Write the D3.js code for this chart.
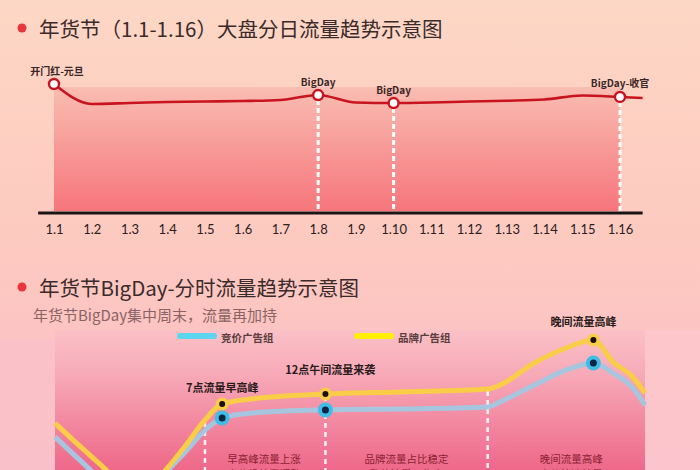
<!DOCTYPE html>
<html><head><meta charset="utf-8">
<script src="https://cdn.jsdelivr.net/npm/d3@7"></script>
<style>html,body{margin:0;padding:0;background:#fcd0c4;} svg{display:block}</style>
</head><body><svg id="c" width="700" height="470"></svg>
<script>
// ---------- data ----------
const days = ["1.1","1.2","1.3","1.4","1.5","1.6","1.7","1.8","1.9","1.10","1.11","1.12","1.13","1.14","1.15","1.16"];
const dailyTraffic = [100, 84.3, 85.0, 85.8, 86.2, 86.6, 87.4, 91.3, 85.4, 85.0, 85.4, 86.2, 86.8, 87.8, 90.9, 89.8];
const dailyTailTraffic = 89.0;
const dayMarkers = [
  {day: "1.1",  label: "开门红-元旦", guide: false},
  {day: "1.8",  label: "BigDay", guide: true},
  {day: "1.10", label: "BigDay", guide: true},
  {day: "1.16", label: "BigDay-收官", guide: true}
];
const hours = [0, 1, 2, 3, 3.8, 4.5, 5.3, 6.1, 6.8, 8, 11, 14, 17.6, 18.1, 19.5, 20.8, 21.9, 22.7, 23.5, 24];
const brandTraffic = [48.3, 35.6, 23.3, 11.1, 11.1, 22.2, 35.6, 50.0, 58.9, 61.7, 64.4, 65.6, 67.2, 69.4, 81.7, 90.0, 94.4, 82.2, 73.9, 65.0];
const bidTraffic   = [40.6, 27.8, 15.6,  6.7,  7.8, 20.6, 32.2, 44.4, 51.1, 53.9, 55.6, 56.1, 57.2, 60.0, 69.4, 77.8, 81.7, 76.1, 67.8, 58.3];
const markerHours = [6.8, 11, 21.9];
const dividerHours = [6.1, 11, 17.6];
const peakNotes = [
  {hour: 6.8, text: "7点流量早高峰"},
  {hour: 11.2, text: "12点午间流量来袭"},
  {hour: 21.5, text: "晚间流量高峰"}
];
const periodNotes = [
  {hour: 8.5,  lines: ["早高峰流量上涨", "竞价投放需调整"]},
  {hour: 14.3, lines: ["品牌流量占比稳定", "整体流量平稳态"]},
  {hour: 21.0, lines: ["晚间流量高峰", "竞价快速抢量"]}
];
const legendItems = [
  {name: "竞价广告组", key: "bid"},
  {name: "品牌广告组", key: "brand"}
];
const titles = ["年货节（1.1-1.16）大盘分日流量趋势示意图", "年货节BigDay-分时流量趋势示意图"];
const subtitle = "年货节BigDay集中周末，流量再加持";

// ---------- styles ----------
const CJK = "'Noto Sans CJK SC','Noto Sans',sans-serif";
const svg = d3.select("#c");
const defs = svg.append("defs");
function vgrad(id, stops, y1, y2) {
  const g = defs.append("linearGradient").attr("id", id)
    .attr("gradientUnits", "userSpaceOnUse").attr("x1", 0).attr("x2", 0).attr("y1", y1).attr("y2", y2);
  stops.forEach(s => g.append("stop").attr("offset", s[0]).attr("stop-color", s[1]));
}
vgrad("pageBg", [[0, "#fdd7c5"], [0.5, "#fdcac0"], [1, "#fbbcc5"]], 0, 470);
vgrad("topArea", [[0, "#f9bdb2"], [1, "#f6757b"]], 87, 212);
vgrad("botArea", [[0, "#fbc1c6"], [0.3, "#f7abb9"], [1, "#ee6889"]], 330, 470);

svg.append("rect").attr("width", 700).attr("height", 470).attr("fill", "url(#pageBg)");

// ---------- top panel ----------
const xTop = d3.scaleLinear().domain([0, days.length - 1]).range([54, 620]);
const yTop = d3.scaleLinear().domain([0, 100]).range([211, 84]);

function title(y, text) {
  svg.append("circle").attr("cx", 22).attr("cy", y).attr("r", 4.5).attr("fill", "#e8343c");
  svg.append("text").attr("x", 39).attr("y", y).attr("dominant-baseline", "central")
    .attr("font-family", CJK).attr("font-size", 20.5).attr("font-weight", 400)
    .attr("fill", "#3b2a2a").text(text);
}
title(28, titles[0]);

svg.append("rect")
  .attr("x", xTop(0)).attr("width", xTop(days.length - 1) - xTop(0))
  .attr("y", yTop(d3.max(dailyTraffic)) + 3)
  .attr("height", yTop(0) - yTop(d3.max(dailyTraffic)) - 3)
  .attr("fill", "url(#topArea)");

const topG = svg.append("g");
dayMarkers.filter(m => m.guide).forEach(m => {
  const i = days.indexOf(m.day);
  topG.append("line").attr("x1", xTop(i)).attr("x2", xTop(i))
    .attr("y1", yTop(dailyTraffic[i]) + 5).attr("y2", yTop(0))
    .attr("stroke", "#fff").attr("stroke-width", 3).attr("stroke-dasharray", "5,3");
});

const tailIndex = days.length - 1 + 0.6;
svg.append("line").attr("x1", xTop(-0.42)).attr("x2", xTop(tailIndex))
  .attr("y1", yTop(0) + 2).attr("y2", yTop(0) + 2).attr("stroke", "#1c1414").attr("stroke-width", 3);

const axis = d3.axisBottom(xTop).tickValues(d3.range(days.length)).tickFormat(i => days[i]).tickSize(0).tickPadding(12);
const ax = svg.append("g").attr("transform", `translate(0,${yTop(0) + 2})`).call(axis);
ax.select(".domain").remove();
ax.selectAll("text").attr("font-family", "Lato, 'Open Sans', sans-serif").attr("font-size", 13).attr("fill", "#2b2020");

const dailyPts = dailyTraffic.map((v, i) => [i, v]).concat([[tailIndex, dailyTailTraffic]]);
svg.append("path").datum(dailyPts)
  .attr("d", d3.line().x(d => xTop(d[0])).y(d => yTop(d[1])).curve(d3.curveMonotoneX))
  .attr("fill", "none").attr("stroke", "#c8141e").attr("stroke-width", 2.6);

dayMarkers.forEach(m => {
  const i = days.indexOf(m.day);
  svg.append("circle").attr("cx", xTop(i)).attr("cy", yTop(dailyTraffic[i])).attr("r", 5)
    .attr("fill", "#fff").attr("stroke", "#c8141e").attr("stroke-width", 2.4);
  svg.append("text").attr("x", xTop(i) + (i === 0 ? 3 : 0)).attr("y", yTop(dailyTraffic[i]) - 14)
    .attr("text-anchor", "middle").attr("dominant-baseline", "central")
    .attr("font-family", CJK).attr("font-size", 10).attr("font-weight", 700)
    .attr("fill", "#3a2626").text(m.label);
});

// ---------- bottom panel ----------
title(287, titles[1]);
svg.append("text").attr("x", 33).attr("y", 314).attr("dominant-baseline", "central")
  .attr("font-family", CJK).attr("font-size", 15).attr("fill", "#8a6464").text(subtitle);

const xBot = d3.scaleLinear().domain([0, 24]).range([55, 645]);
const yBot = d3.scaleLinear().domain([0, 100]).range([510, 330]);

svg.append("rect").attr("x", 0).attr("y", 340).attr("width", xBot(0)).attr("height", 130).attr("fill", "#f9c2ca").attr("opacity", 0.7);
svg.append("rect").attr("x", xBot(24)).attr("y", 330).attr("width", 700 - xBot(24)).attr("height", 140).attr("fill", "#fcc8ce").attr("opacity", 0.7);
svg.append("rect").attr("x", xBot(0)).attr("y", 330).attr("width", xBot(24) - xBot(0)).attr("height", 140).attr("fill", "url(#botArea)");

const colors = {bid: "#5cd5ee", brand: "#fff000"};
const lineColors = {bid: "#a6c6e0", brand: "#f9cd48"};
const legendX = [180, 357];
legendItems.forEach((it, k) => {
  svg.append("line").attr("x1", legendX[k]).attr("x2", legendX[k] + 34).attr("y1", 336).attr("y2", 336)
    .attr("stroke", colors[it.key]).attr("stroke-width", 6).attr("stroke-linecap", "round");
  svg.append("text").attr("x", legendX[k] + 41).attr("y", 337).attr("dominant-baseline", "central")
    .attr("font-family", CJK).attr("font-size", 10.5).attr("font-weight", 700).attr("fill", "#5a3c3c").text(it.name);
});

const valAt = (arr, h) => arr[hours.indexOf(h)];
dividerHours.forEach(h => {
  svg.append("line").attr("x1", xBot(h)).attr("x2", xBot(h))
    .attr("y1", yBot(valAt(brandTraffic, h)) + 2).attr("y2", 470)
    .attr("stroke", "#fff").attr("stroke-width", 2.5).attr("stroke-dasharray", "5,4").attr("opacity", 0.9);
});

const lineGen = d3.line().x((d, i) => xBot(hours[i])).y(d => yBot(d)).curve(d3.curveMonotoneX);
svg.append("path").datum(bidTraffic).attr("d", lineGen).attr("fill", "none")
  .attr("stroke", lineColors.bid).attr("stroke-width", 5).attr("stroke-linejoin", "round");
svg.append("path").datum(brandTraffic).attr("d", lineGen).attr("fill", "none")
  .attr("stroke", lineColors.brand).attr("stroke-width", 5).attr("stroke-linejoin", "round");

markerHours.forEach(h => {
  const xb = xBot(h);
  svg.append("circle").attr("cx", xb).attr("cy", yBot(valAt(brandTraffic, h))).attr("r", 6.5).attr("fill", "#f9cd48");
  svg.append("circle").attr("cx", xb).attr("cy", yBot(valAt(brandTraffic, h))).attr("r", 3).attr("fill", "#1a1010");
  svg.append("circle").attr("cx", xb).attr("cy", yBot(valAt(bidTraffic, h))).attr("r", 7.5).attr("fill", "#3fbde6");
  svg.append("circle").attr("cx", xb).attr("cy", yBot(valAt(bidTraffic, h))).attr("r", 3.5).attr("fill", "#0c2446");
});

const peakOffsets = [17, 25, 19];
peakNotes.forEach((n, k) => {
  const hm = markerHours[k];
  svg.append("text").attr("x", xBot(n.hour)).attr("y", yBot(valAt(brandTraffic, hm)) - peakOffsets[k])
    .attr("text-anchor", "middle").attr("dominant-baseline", "central")
    .attr("font-family", CJK).attr("font-size", 11).attr("font-weight", 700).attr("fill", "#2a1a1a").text(n.text);
});
periodNotes.forEach(n => {
  n.lines.forEach((t, j) => {
    svg.append("text").attr("x", xBot(n.hour)).attr("y", 458 + j * 15)
      .attr("text-anchor", "middle").attr("dominant-baseline", "central")
      .attr("font-family", CJK).attr("font-size", 10.5).attr("fill", "#8c1f33").text(t);
  });
});
</script></body></html>
